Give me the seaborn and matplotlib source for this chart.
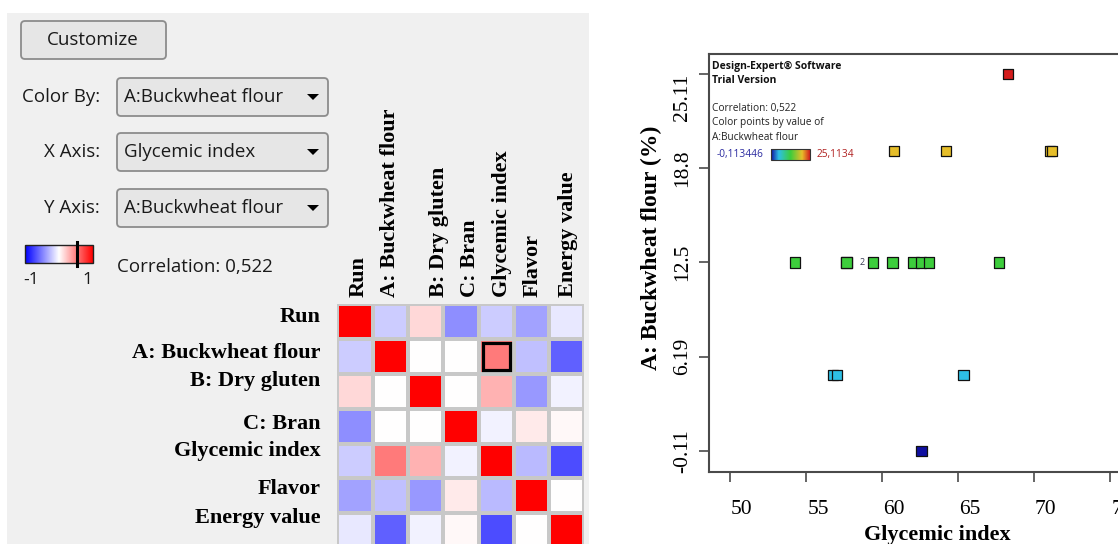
import numpy as np
import pandas as pd
import matplotlib
matplotlib.use("Agg")
import matplotlib.pyplot as plt
import matplotlib.transforms as mtransforms
from matplotlib.patches import FancyBboxPatch, Rectangle, Polygon
from matplotlib.colors import LinearSegmentedColormap
import seaborn as sns

# ---------------- data ----------------
variables = ["Run", "A: Buckwheat flour", "B: Dry gluten", "C: Bran",
             "Glycemic index", "Flavor", "Energy value"]
corr_run    = [1.00, -0.20, 0.15, -0.44, -0.20, -0.36, -0.09]
corr_a      = [-0.20, 1.00, 0.00, 0.00, 0.522, -0.25, -0.62]
corr_b      = [0.15, 0.00, 1.00, 0.00, 0.30, -0.40, -0.05]
corr_c      = [-0.44, 0.00, 0.00, 1.00, -0.05, 0.08, 0.03]
corr_gi     = [-0.20, 0.522, 0.30, -0.05, 1.00, -0.27, -0.70]
corr_flavor = [-0.36, -0.25, -0.40, 0.08, -0.27, 1.00, 0.00]
corr_energy = [-0.09, -0.62, -0.05, 0.03, -0.70, 0.00, 1.00]

glycemic_index = [68.3, 60.8, 64.2, 71.05, 71.2,
                  54.3, 57.67, 57.67, 59.4, 60.7, 62.07, 62.57, 63.09, 67.7,
                  56.8, 57.05, 65.37, 62.6]
buckwheat = [25.11, 19.96, 19.96, 19.96, 19.96,
             12.5, 12.5, 12.5, 12.5, 12.5, 12.5, 12.5, 12.5, 12.5,
             4.97, 4.97, 4.97, -0.11]
buckwheat_min, buckwheat_max = -0.113446, 25.1134
x_ticks = [50, 55, 60, 65, 70, 75]
y_ticks = [-0.11, 6.19, 12.5, 18.8, 25.11]
y_tick_labels = ["-0.11", "6.19", "12.5", "18.8", "25.11"]
correlation = 0.522
x_var, y_var = "Glycemic index", "A: Buckwheat flour"

# ---------------- figure ----------------
W, H = 1118, 544
fig = plt.figure(figsize=(W / 100, H / 100), dpi=100)
fig.patch.set_facecolor("white")

SERIF = "Liberation Serif"
UI = "Open Sans"

# background / overlay axis in pixel coordinates
bg = fig.add_axes([0, 0, 1, 1], zorder=-1)
bg.set_xlim(0, W)
bg.set_ylim(H, 0)
bg.axis("off")
bg.add_patch(Rectangle((7, 13), 582, 540, facecolor="#f0f0f0", edgecolor="none", zorder=-5))

# ---- UI controls ----
def box(x, y, w, h):
    bg.add_patch(FancyBboxPatch((x, y), w, h,
                                boxstyle="round,pad=0,rounding_size=4",
                                facecolor="#e6e6e6", edgecolor="#8c8c8c", lw=1.3))

box(21, 21, 145, 38)
bg.text(93, 40, "Customize", ha="center", va="center", fontsize=13.5,
        family=UI, color="#1a1a1a")

controls = [("Color By:", "A:Buckwheat flour", 78),
            ("X Axis:", "Glycemic index", 133),
            ("Y Axis:", "A:Buckwheat flour", 189)]
for lab, val, y0 in controls:
    box(117, y0, 211, 38)
    yc = y0 + 19
    bg.text(100, yc, lab, ha="right", va="center", fontsize=13.5, family=UI, color="#1a1a1a")
    bg.text(124, yc, val, ha="left", va="center", fontsize=13.5, family=UI, color="#1a1a1a")
    bg.add_patch(Polygon([[307, yc - 3], [319, yc - 3], [313, yc + 3]],
                         closed=True, facecolor="black", edgecolor="none"))

# correlation colour key
grad = np.linspace(-1, 1, 256)[None, :]
bg.imshow(grad, cmap="bwr", vmin=-1, vmax=1, extent=(25, 93, 263, 245),
          aspect="auto", zorder=2)
bg.add_patch(Rectangle((25, 245), 68, 18, fill=False, edgecolor="#222222", lw=1, zorder=3))
mx = 25 + (correlation + 1) / 2 * 68
bg.plot([mx, mx], [242, 266], color="black", lw=2.2, zorder=4)
bg.text(31, 280, "-1", ha="center", va="center", fontsize=12.5, family=UI, color="#1a1a1a")
bg.text(87, 280, "1", ha="center", va="center", fontsize=12.5, family=UI, color="#1a1a1a")
bg.text(117, 267, "Correlation: " + f"{correlation:.3f}".replace(".", ","),
        ha="left", va="center", fontsize=13.5, family=UI, color="#1a1a1a")

# ---- heatmap ----
corr_df = pd.DataFrame([corr_run, corr_a, corr_b, corr_c, corr_gi, corr_flavor, corr_energy],
                       index=variables, columns=variables)
hm = fig.add_axes([337.3 / W, 1 - 548.3 / H, 247.1 / W, 244.3 / H])
sns.heatmap(corr_df, ax=hm, cmap="bwr", vmin=-1, vmax=1, cbar=False,
            linewidths=1.5, linecolor="#c8c8c8")
hm.xaxis.tick_top()
col_pos = [0.59, 1.49, 2.88, 3.76, 4.67, 5.54, 6.53]
row_pos = [0.36, 1.40, 2.20, 3.43, 4.20, 5.30, 6.14]
hm.set_xticks(col_pos)
hm.set_xticklabels(variables, rotation=90, ha="center", va="bottom",
                   fontsize=16, fontweight="bold", family=SERIF)
hm.set_yticks(row_pos)
hm.set_yticklabels(variables, rotation=0, ha="right", va="center",
                   fontsize=16, fontweight="bold", family=SERIF)
hm.tick_params(axis="x", length=0, pad=5, top=True, bottom=False)
hm.tick_params(axis="y", length=0, pad=12)
hm.set_xlabel("")
hm.set_ylabel("")
r = variables.index(y_var)
c = variables.index(x_var)
hm.add_patch(Rectangle((c + 0.12, r + 0.12), 0.76, 0.76, fill=False,
                       edgecolor="black", lw=2.3))

# ---- scatter ----
pt_cmap = LinearSegmentedColormap.from_list(
    "de", [(0.0, "#0f0fa0"), (0.2, "#2ec0e6"), (0.5, "#3ccd3c"),
           (0.8, "#e8be2a"), (1.0, "#d41c1c")])
left_px, right_px, top_px, bottom_px = 708.7, 1140, 54, 472
sc = fig.add_axes([left_px / W, 1 - bottom_px / H, (right_px - left_px) / W,
                   (bottom_px - top_px) / H])
sc.set_facecolor("none")
scat_df = pd.DataFrame({"gi": glycemic_index, "bw": buckwheat})
sns.scatterplot(data=scat_df, x="gi", y="bw", hue="bw", palette=pt_cmap,
                hue_norm=(buckwheat_min, buckwheat_max), marker="s", s=55,
                edgecolor="#111111", linewidth=0.9, legend=False, ax=sc, zorder=3)
sc.set_xlim(48.6, 76.98)
sc.set_ylim(-1.514, 26.447)
sc.set_xticks(x_ticks)
sc.set_xticklabels([str(v) for v in x_ticks], fontsize=15.5, family=SERIF)
sc.set_yticks(y_ticks)
sc.set_yticklabels(y_tick_labels, fontsize=15.5, family=SERIF, rotation=90, va="center")
for sp in sc.spines.values():
    sp.set_color("#4a4a4a")
    sp.set_linewidth(1.5)
sc.tick_params(axis="both", direction="out", length=7.2, width=1.2, color="#4a4a4a")
sc.tick_params(axis="x", pad=13)
sc.tick_params(axis="y", pad=5)
sc.get_yticklabels()[-1].set_va("top")
off = mtransforms.ScaledTranslation(0.12, 0, fig.dpi_scale_trans)
for lab in sc.get_xticklabels():
    lab.set_transform(lab.get_transform() + off)
sc.set_xlabel("Glycemic index", fontsize=16, fontweight="bold", family=SERIF)
sc.set_ylabel("A: Buckwheat flour (%)", fontsize=17, fontweight="bold", family=SERIF)
sc.xaxis.set_label_coords((937.5 - left_px) / (right_px - left_px),
                          (bottom_px - 535) / (bottom_px - top_px))
sc.yaxis.set_label_coords((651 - left_px) / (right_px - left_px),
                          (bottom_px - 248) / (bottom_px - top_px))
sc.xaxis.label.set_va("center")
sc.yaxis.label.set_va("center")

# replicate count label
counts = scat_df.groupby(["gi", "bw"]).size()
for (gx, gy), n in counts.items():
    if n > 1:
        sc.annotate(str(n), (gx, gy), xytext=(11.5, 0), textcoords="offset points",
                    ha="center", va="center", fontsize=6.5, family=UI, color="#3a3a55")

# in-plot legend text
bg.text(712, 66, "Design-Expert\u00ae Software", ha="left", va="center", fontsize=7.5,
        fontweight="bold", family=UI, color="#111111")
bg.text(712, 80.5, "Trial Version", ha="left", va="center", fontsize=7.5,
        fontweight="bold", family=UI, color="#111111")
bg.text(712, 109, "Correlation: " + f"{correlation:.3f}".replace(".", ","),
        ha="left", va="center", fontsize=7.3, family=UI, color="#222222")
bg.text(712, 123, "Color points by value of", ha="left", va="center", fontsize=7.3,
        family=UI, color="#222222")
bg.text(712, 137, "A:Buckwheat flour", ha="left", va="center", fontsize=7.3,
        family=UI, color="#222222")
bg.text(717, 155, f"{buckwheat_min:.6f}".replace(".", ","), ha="left", va="center",
        fontsize=7.3, family=UI, color="#2a2aa0")
bg.text(817, 155, f"{buckwheat_max:.4f}".replace(".", ","), ha="left", va="center",
        fontsize=7.3, family=UI, color="#b02020")
grad2 = np.linspace(0, 1, 256)[None, :]
bg.imshow(grad2, cmap=pt_cmap, extent=(771, 810, 160, 149), aspect="auto", zorder=2)
bg.add_patch(Rectangle((771, 149), 39, 11, fill=False, edgecolor="#333333", lw=0.8, zorder=3))

bg.set_xlim(0, W)
bg.set_ylim(H, 0)

fig.savefig("out.png", dpi=100)
